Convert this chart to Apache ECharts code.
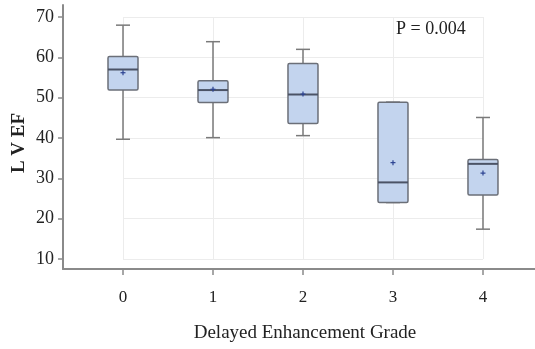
<!DOCTYPE html>
<html>
<head>
<meta charset="utf-8">
<script src="https://cdn.jsdelivr.net/npm/echarts@6/dist/echarts.min.js"></script>
<style>
  html, body { margin: 0; padding: 0; background: #fff; }
  #chart { width: 535px; height: 349px; }
</style>
</head>
<body>
<div id="chart"></div>
<script>
// LV EF by delayed enhancement grade (box plots)
const grades = [0, 1, 2, 3, 4];
const whiskerLow = [39.7, 40.1, 40.6, 24.0, 17.4];
const q1 = [51.9, 48.8, 43.6, 24.0, 25.9];
const median = [57.0, 51.9, 50.8, 29.0, 33.6];
const q3 = [60.2, 54.2, 58.5, 48.9, 34.7];
const whiskerHigh = [68.0, 63.9, 62.0, 48.9, 45.1];
const means = [56.2, 52.1, 50.9, 33.9, 31.3];
const yTicks = [10, 20, 30, 40, 50, 60, 70];

const boxData = grades.map((g, i) =>
  [g, whiskerLow[i], q1[i], median[i], q3[i], whiskerHigh[i], means[i]]);

const chart = echarts.init(document.getElementById('chart'), null, {renderer: 'canvas'});

const serif = 'Liberation Serif';
const axisGray = '#8a8a8a';

function renderBox(params, api) {
  const x = api.value(0);
  const pLow = api.coord([x, api.value(1)]);
  const pQ1 = api.coord([x, api.value(2)]);
  const pMed = api.coord([x, api.value(3)]);
  const pQ3 = api.coord([x, api.value(4)]);
  const pHigh = api.coord([x, api.value(5)]);
  const pMean = api.coord([x, api.value(6)]);
  const cx = pMed[0];
  const halfBox = 15;
  const halfCap = 7;
  const whiskerStyle = {stroke: '#7a7a7a', lineWidth: 1.5};
  return {
    type: 'group',
    children: [
      {type: 'line', shape: {x1: cx, y1: pHigh[1], x2: cx, y2: pQ3[1]}, style: whiskerStyle},
      {type: 'line', shape: {x1: cx, y1: pQ1[1], x2: cx, y2: pLow[1]}, style: whiskerStyle},
      {type: 'line', shape: {x1: cx - halfCap, y1: pHigh[1], x2: cx + halfCap, y2: pHigh[1]}, style: whiskerStyle},
      {type: 'line', shape: {x1: cx - halfCap, y1: pLow[1], x2: cx + halfCap, y2: pLow[1]}, style: whiskerStyle},
      {type: 'rect', shape: {x: cx - halfBox, y: pQ3[1], width: halfBox * 2, height: pQ1[1] - pQ3[1], r: 1.5},
        style: {fill: '#c3d4ee', stroke: '#6b6f78', lineWidth: 1.5}},
      {type: 'line', shape: {x1: cx - halfBox, y1: pMed[1], x2: cx + halfBox, y2: pMed[1]},
        style: {stroke: '#4b5366', lineWidth: 2}},
      {type: 'line', shape: {x1: cx - 2.5, y1: pMean[1], x2: cx + 2.5, y2: pMean[1]},
        style: {stroke: '#2c4392', lineWidth: 1.2}},
      {type: 'line', shape: {x1: cx, y1: pMean[1] - 2.5, x2: cx, y2: pMean[1] + 2.5},
        style: {stroke: '#2c4392', lineWidth: 1.2}}
    ]
  };
}

const option = {
  backgroundColor: '#fff',
  animation: false,
  grid: [
    {left: 63, right: 0, top: 5, bottom: 80},
    {left: 123, right: 52, top: 17, bottom: 90}
  ],
  xAxis: [
    {
      gridIndex: 0,
      type: 'value',
      min: -0.6667,
      max: 4.578,
      axisLine: {show: true, onZero: false, lineStyle: {color: axisGray, width: 2}},
      axisTick: {show: true, customValues: grades, length: 6, lineStyle: {color: axisGray, width: 1.5}},
      axisLabel: {customValues: grades, margin: 20, fontFamily: serif, fontSize: 17, color: '#222'},
      splitLine: {show: false}
    },
    {
      gridIndex: 1,
      type: 'value',
      min: 0,
      max: 4,
      interval: 1,
      axisLine: {show: false},
      axisTick: {show: false},
      axisLabel: {show: false},
      splitLine: {show: true, lineStyle: {color: '#ececec', width: 1}}
    }
  ],
  yAxis: [
    {
      gridIndex: 0,
      type: 'value',
      min: 7.52,
      max: 73,
      axisLine: {show: true, onZero: false, lineStyle: {color: axisGray, width: 2}},
      axisTick: {show: true, customValues: yTicks, length: 5, lineStyle: {color: axisGray, width: 1.5}},
      axisLabel: {customValues: yTicks, margin: 9, fontFamily: serif, fontSize: 18, color: '#222'},
      splitLine: {show: false}
    },
    {
      gridIndex: 1,
      type: 'value',
      min: 10,
      max: 70,
      interval: 10,
      axisLine: {show: false},
      axisTick: {show: false},
      axisLabel: {show: false},
      splitLine: {show: true, lineStyle: {color: '#ececec', width: 1}}
    }
  ],
  graphic: [
    {
      type: 'text', left: 396, top: 20,
      style: {text: 'P = 0.004', fontFamily: serif, fontSize: 18, fill: '#222'}
    },
    {
      type: 'text', x: 305, y: 333,
      style: {text: 'Delayed Enhancement Grade', fontFamily: serif, fontSize: 19, fill: '#222',
        align: 'center', verticalAlign: 'middle'}
    },
    {
      type: 'text', x: 19, y: 143, rotation: Math.PI / 2,
      style: {text: 'L V EF', fontFamily: serif, fontSize: 19, fontWeight: 'bold', fill: '#222',
        align: 'center', verticalAlign: 'middle'}
    }
  ],
  series: [{
    type: 'custom',
    xAxisIndex: 0,
    yAxisIndex: 0,
    renderItem: renderBox,
    encode: {x: 0, y: [1, 2, 3, 4, 5, 6]},
    data: boxData,
    z: 5
  }]
};

chart.setOption(option);
</script>
</body>
</html>
